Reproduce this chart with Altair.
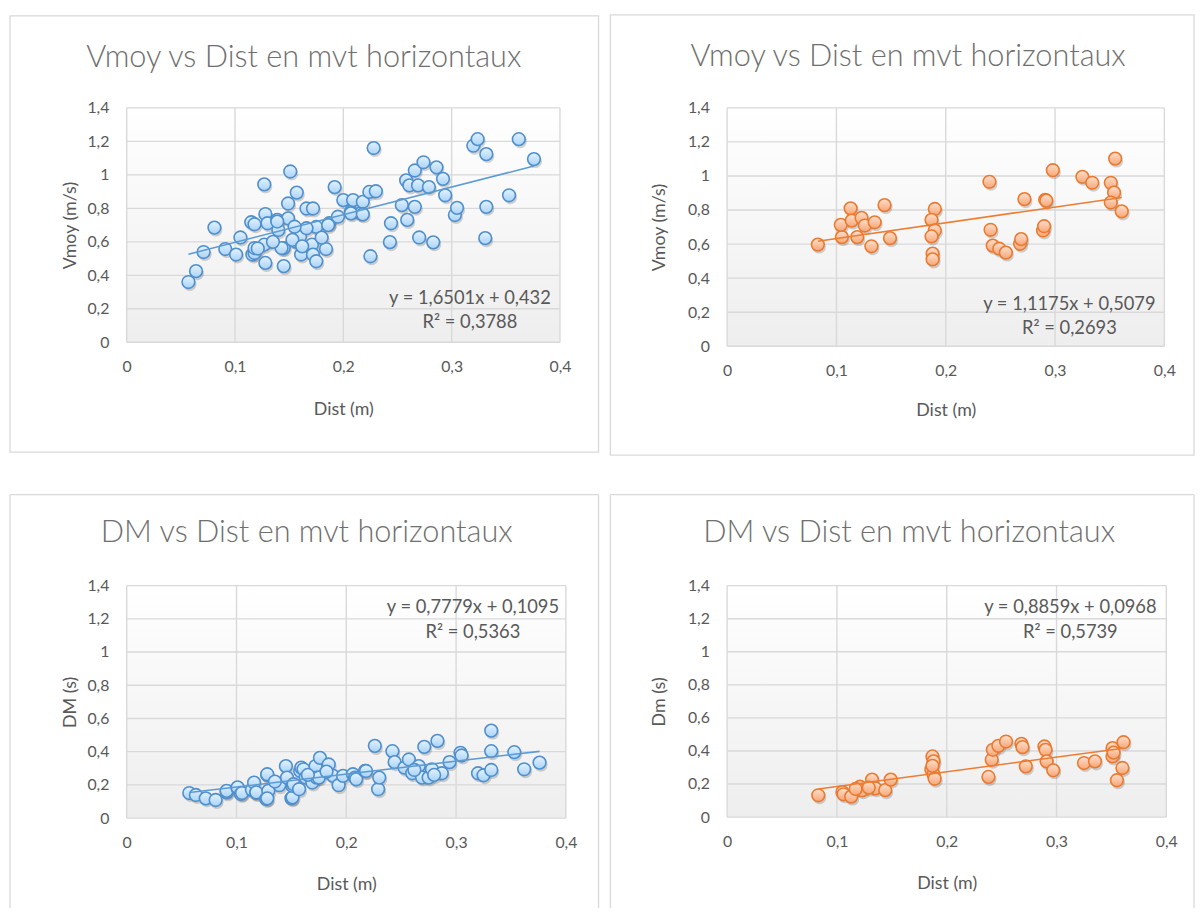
import altair as alt
import pandas as pd

# ---------------- data ----------------
x_ticks = [0, 0.1, 0.2, 0.3, 0.4]
y_ticks = [0, 0.2, 0.4, 0.6, 0.8, 1, 1.2, 1.4]

# top-left : Vmoy vs Dist (blue)
tl_dist = [0.057, 0.064, 0.071, 0.081, 0.091, 0.101, 0.105, 0.115, 0.118, 0.116, 0.118, 0.127, 0.128, 0.128,
           0.127, 0.130, 0.139, 0.140, 0.145, 0.145, 0.149, 0.149, 0.151, 0.157, 0.156, 0.160, 0.161, 0.166,
           0.172, 0.171, 0.172, 0.175, 0.175, 0.184, 0.187, 0.192, 0.195, 0.200, 0.207, 0.209, 0.216, 0.218,
           0.225, 0.224, 0.228, 0.230, 0.244, 0.243, 0.254, 0.259, 0.258, 0.261, 0.266, 0.266, 0.269, 0.274,
           0.270, 0.279, 0.283, 0.286, 0.292, 0.294, 0.303, 0.305, 0.320, 0.324, 0.332, 0.332, 0.331, 0.353,
           0.362, 0.376, 0.139, 0.166, 0.153, 0.162, 0.143, 0.118, 0.207, 0.218, 0.121, 0.135, 0.155, 0.180,
           0.186]
tl_vmoy = [0.360, 0.425, 0.539, 0.685, 0.557, 0.524, 0.626, 0.717, 0.705, 0.524, 0.533, 0.943, 0.766, 0.474,
           0.583, 0.711, 0.731, 0.671, 0.455, 0.563, 0.740, 0.829, 1.020, 0.894, 0.602, 0.632, 0.524, 0.799,
           0.799, 0.583, 0.524, 0.484, 0.689, 0.557, 0.711, 0.927, 0.750, 0.849, 0.780, 0.849, 0.770, 0.839,
           0.514, 0.898, 1.160, 0.902, 0.711, 0.598, 0.819, 0.731, 0.967, 0.937, 0.809, 1.026, 0.937, 1.075,
           0.626, 0.927, 0.597, 1.045, 0.976, 0.878, 0.760, 0.803, 1.174, 1.213, 1.124, 0.809, 0.622, 0.878,
           1.213, 1.094, 0.721, 0.681, 0.612, 0.573, 0.563, 0.563, 0.770, 0.764, 0.560, 0.600, 0.690, 0.625,
           0.700]

# top-right : Vmoy vs Dist (orange)
tr_dist = [0.083, 0.105, 0.104, 0.113, 0.114, 0.123, 0.126, 0.135, 0.119, 0.132, 0.144, 0.149, 0.190, 0.187,
           0.190, 0.187, 0.188, 0.188, 0.240, 0.241, 0.243, 0.249, 0.255, 0.268, 0.269, 0.272, 0.289, 0.290,
           0.291, 0.292, 0.298, 0.325, 0.334, 0.351, 0.354, 0.351, 0.355, 0.361]
tr_vmoy = [0.597, 0.641, 0.713, 0.810, 0.738, 0.754, 0.709, 0.728, 0.641, 0.587, 0.829, 0.635, 0.806, 0.742,
           0.680, 0.645, 0.544, 0.510, 0.966, 0.684, 0.591, 0.573, 0.550, 0.602, 0.629, 0.864, 0.680, 0.705,
           0.860, 0.855, 1.034, 0.995, 0.960, 0.960, 0.902, 0.844, 1.102, 0.792]

# bottom-left : DM vs Dist (blue)
bl_dist = [0.057, 0.063, 0.072, 0.081, 0.091, 0.091, 0.101, 0.101, 0.104, 0.105, 0.114, 0.116, 0.118, 0.118,
           0.127, 0.128, 0.128, 0.129, 0.128, 0.139, 0.145, 0.146, 0.150, 0.151, 0.151, 0.152, 0.157, 0.158,
           0.159, 0.161, 0.163, 0.169, 0.172, 0.173, 0.176, 0.175, 0.184, 0.188, 0.193, 0.197, 0.206, 0.208,
           0.209, 0.217, 0.218, 0.226, 0.229, 0.230, 0.242, 0.244, 0.253, 0.257, 0.260, 0.266, 0.269, 0.271,
           0.275, 0.278, 0.283, 0.287, 0.294, 0.304, 0.305, 0.320, 0.325, 0.332, 0.332, 0.332, 0.353, 0.362,
           0.376, 0.135, 0.165, 0.182, 0.262, 0.280]
bl_dm = [0.151, 0.139, 0.119, 0.109, 0.155, 0.164, 0.180, 0.185, 0.145, 0.151, 0.170, 0.214, 0.151, 0.155,
         0.115, 0.260, 0.264, 0.164, 0.119, 0.198, 0.313, 0.244, 0.119, 0.125, 0.194, 0.204, 0.174, 0.284,
         0.304, 0.294, 0.244, 0.214, 0.313, 0.244, 0.363, 0.244, 0.323, 0.254, 0.198, 0.254, 0.264, 0.244,
         0.234, 0.284, 0.284, 0.435, 0.174, 0.244, 0.403, 0.337, 0.304, 0.353, 0.270, 0.313, 0.244, 0.429,
         0.244, 0.294, 0.465, 0.270, 0.337, 0.393, 0.377, 0.270, 0.258, 0.403, 0.290, 0.527, 0.397, 0.294,
         0.334, 0.220, 0.260, 0.280, 0.290, 0.260]

# bottom-right : Dm vs Dist (orange)
br_dist = [0.083, 0.105, 0.106, 0.113, 0.121, 0.123, 0.132, 0.135, 0.144, 0.149, 0.129, 0.117, 0.187, 0.188,
           0.186, 0.188, 0.189, 0.187, 0.238, 0.241, 0.242, 0.247, 0.254, 0.268, 0.269, 0.272, 0.289, 0.290,
           0.291, 0.297, 0.325, 0.335, 0.351, 0.351, 0.361, 0.360, 0.355, 0.352]
br_dm = [0.132, 0.151, 0.138, 0.124, 0.184, 0.162, 0.227, 0.174, 0.163, 0.227, 0.178, 0.170, 0.367, 0.337,
         0.287, 0.257, 0.232, 0.310, 0.243, 0.347, 0.407, 0.431, 0.457, 0.443, 0.423, 0.307, 0.427, 0.407,
         0.337, 0.283, 0.327, 0.337, 0.417, 0.367, 0.453, 0.297, 0.223, 0.390]

# trend-line equations shown in the charts
tl_eq = (1.6501, 0.432, "0,3788")
tr_eq = (1.1175, 0.5079, "0,2693")
bl_eq = (0.7779, 0.1095, "0,5363")
br_eq = (0.8859, 0.0968, "0,5739")
# trend line as drawn in the top-right chart
tr_line = (0.925, 0.54)

FONT = "Lato"
TXT = "#595959"
GRID = "#d9d9d9"
ONE = pd.DataFrame({"k": [0]})


def fmt(v):
    return str(v).replace(".", ",")


def grad(c0, c1):
    return alt.Gradient(gradient="linear",
                        stops=[alt.GradientStop(offset=0, color=c0), alt.GradientStop(offset=1, color=c1)],
                        x1=0, x2=0, y1=0, y2=1)


BLUE = dict(fill=grad("#e4f2fe", "#a9d3f8"), stroke="#4f8fcc", line="#5b9bd5")
ORANGE = dict(fill=grad("#fde0cf", "#f6a675"), stroke="#ea7a30", line="#ed7d31")


def panel(dist, vals, ytitle, title, eq, line, col, st):
    df = pd.DataFrame({"x": dist, "y": vals})
    w, h = st["w"], st["h"]
    xs = alt.Scale(domain=[0, 0.4], nice=False, zero=False)
    ys = alt.Scale(domain=[0, 1.4], nice=False, zero=False)
    lab = "replace(toString(datum.value), '.', ',')"
    xax = alt.Axis(values=x_ticks, labelExpr=lab, grid=False, ticks=False, tickSize=0, domain=False,
                   labelFlush=False, labelPadding=st["xlp"], titlePadding=st["xtp"])
    yax = alt.Axis(values=y_ticks, labelExpr=lab, grid=False, ticks=False, tickSize=0, domain=False,
                   labelFlush=False, labelPadding=st["ylp"], titlePadding=st["ytp"])

    def X(f):
        return alt.X(f, type="quantitative", scale=xs, axis=xax, title="Dist (m)")

    def Y(f):
        return alt.Y(f, type="quantitative", scale=ys, axis=yax, title=ytitle)

    bg = alt.Chart(ONE).mark_rect(fill=grad("#ffffff", "#eeeeee")).encode(
        x=alt.value(0), x2=alt.value(w), y=alt.value(0), y2=alt.value(h))
    gx = alt.Chart(pd.DataFrame({"gx": x_ticks})).mark_rule(color=GRID, strokeWidth=1.4).encode(x=X("gx"))
    gy = alt.Chart(pd.DataFrame({"gy": y_ticks})).mark_rule(color=GRID, strokeWidth=1.4).encode(y=Y("gy"))
    shadow = alt.Chart(df).mark_circle(color="#3a3a3a", opacity=0.22, size=185, xOffset=1.3,
                                       yOffset=2.3).encode(x=X("x"), y=Y("y"))
    pts = alt.Chart(df).mark_circle(fill=col["fill"], stroke=col["stroke"], strokeWidth=1.6, size=165,
                                    opacity=1).encode(x=X("x"), y=Y("y"))
    slope, icpt = line
    trend = alt.Chart(df).transform_joinaggregate(xmin="min(x)", xmax="max(x)").transform_filter(
        "datum.x == datum.xmin || datum.x == datum.xmax").transform_calculate(
        fit=f"{slope} * datum.x + {icpt}").mark_line(color=col["line"], strokeWidth=1.6).encode(
        x=X("x"), y=Y("fit:Q"))
    eqtxt = alt.Chart(ONE).mark_text(
        text=[f"y = {fmt(eq[0])}x + {fmt(eq[1])}", f"R² = {eq[2]}"], font=FONT, fontSize=18.5, color=TXT,
        align="center", baseline="middle", lineHeight=25).encode(x=alt.value(st["eqx"]), y=alt.value(st["eqy"]))
    ttl = alt.Chart(ONE).mark_text(text=title, font=FONT, fontSize=st["tfs"], fontWeight=300, color="#6f6f6f",
                                   align="center", baseline="middle").encode(
        x=alt.value(st["tx"]), y=alt.value(st["ty"]))
    bx0, bx1, by0, by1 = st["border"]
    if st["closed"]:
        borders = [alt.Chart(ONE).mark_rect(fillOpacity=0, stroke=GRID, strokeWidth=1.3).encode(
            x=alt.value(bx0), x2=alt.value(bx1), y=alt.value(by0), y2=alt.value(by1))]
    else:
        rule = alt.Chart(ONE).mark_rule(color=GRID, strokeWidth=1.3)
        borders = [
            rule.encode(x=alt.value(bx0), x2=alt.value(bx1), y=alt.value(by0), y2=alt.value(by0)),
            rule.encode(x=alt.value(bx0), x2=alt.value(bx0), y=alt.value(by0), y2=alt.value(by1)),
            rule.encode(x=alt.value(bx1), x2=alt.value(bx1), y=alt.value(by0), y2=alt.value(by1)),
        ]
    return alt.layer(bg, gx, gy, shadow, pts, trend, eqtxt, ttl, *borders).properties(width=w, height=h)


TL = panel(tl_dist, tl_vmoy, "Vmoy (m/s)", "Vmoy vs Dist en mvt horizontaux", tl_eq, tl_eq[:2], BLUE,
           dict(w=438, h=237, xlp=17, xtp=26, ylp=18, ytp=8, eqx=347, eqy=192, tx=179, ty=-50, tfs=31,
                border=(-118, 477, -93, 348), closed=True))
TR = panel(tr_dist, tr_vmoy, "Vmoy (m/s)", "Vmoy vs Dist en mvt horizontaux", tr_eq, tr_line, ORANGE,
           dict(w=442, h=241, xlp=17, xtp=23, ylp=18, ytp=19, eqx=346, eqy=198, tx=183, ty=-51, tfs=31,
                border=(-118, 472, -94, 351), closed=True))
BL = panel(bl_dist, bl_dm, "DM (s)", "DM vs Dist en mvt horizontaux", bl_eq, bl_eq[:2], BLUE,
           dict(w=444, h=235, xlp=17, xtp=25, ylp=18, ytp=8, eqx=350, eqy=22, tx=182, ty=-53, tfs=31,
                border=(-118, 477, -92, 326), closed=False))
BR = panel(br_dist, br_dm, "Dm (s)", "DM vs Dist en mvt horizontaux", br_eq, br_eq[:2], ORANGE,
           dict(w=444, h=234, xlp=17, xtp=25, ylp=18, ytp=19, eqx=347, eqy=22, tx=184, ty=-53, tfs=31,
                border=(-118, 472, -92, 326), closed=False))

chart = alt.concat(TL, TR, BL, BR, columns=2, spacing=alt.RowColnumber(row=36, column=8)).properties(
    padding={"left": 0, "top": 0, "right": 0, "bottom": 0}, background="white"
).configure_view(stroke="transparent").configure_axis(
    labelFont=FONT, titleFont=FONT, labelFontSize=16, titleFontSize=18, labelColor=TXT, titleColor=TXT,
    titleFontWeight="normal")

chart.save("out.html", embed_options={"renderer": "svg", "actions": False})
